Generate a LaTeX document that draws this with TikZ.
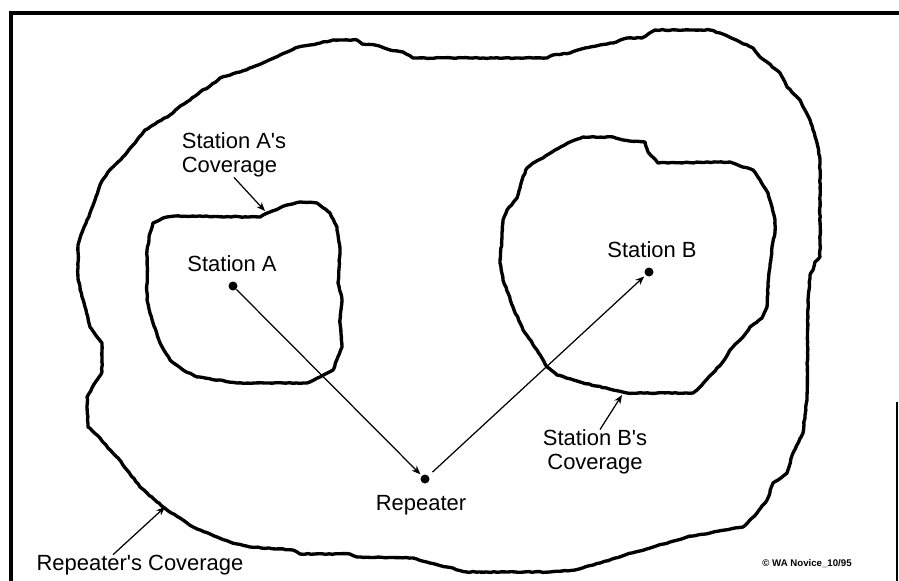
\documentclass[tikz,border=0pt]{standalone}
\usepackage{fontspec}
\setmainfont{Liberation Sans}
\usetikzlibrary{arrows.meta, decorations.pathmorphing}

\begin{document}
\begin{tikzpicture}[x=0.02cm, y=-0.02cm,
    area/.style={line width=1.9pt, line join=round, decorate,
      decoration={random steps, segment length=2pt, amplitude=0.25pt}},
    dot/.style={circle, fill, inner sep=0pt, minimum size=0.18cm},
    lbl/.style={font=\fontsize{12.5}{13.5}\selectfont, inner sep=0pt},
    pointer/.style={-{Stealth[length=5pt, width=4pt]}, line width=0.7pt}]
    \pgfmathsetseed{7}
    \useasboundingbox (0,0) rectangle (899,581);

    % Frame
    \draw[line width=2.8pt] (11,581) -- (11,13) -- (899,13);
    \draw[line width=0.6pt] (897,402) -- (897,581);

    % Repeater's coverage
    \draw[area] (95,200) -- (100,185) -- (108,172) -- (118,162) -- (125,155)
      -- (135,143) -- (145,130) -- (155,124) -- (170,115) -- (178,108)
      -- (190,100) -- (200,92) -- (210,86) -- (220,78) -- (240,72)
      -- (265,62) -- (280,55) -- (295,48) -- (310,45) -- (333,40)
      -- (357,40) -- (362,44) -- (375,45) -- (390,50) -- (403,52)
      -- (413,58) -- (547,58) -- (553,55) -- (570,53) -- (585,48)
      -- (600,45) -- (613,43) -- (627,38) -- (642,38) -- (655,30)
      -- (710,30) -- (720,33) -- (740,42) -- (753,48) -- (760,57)
      -- (767,62) -- (780,73) -- (787,87) -- (800,100) -- (810,120)
      -- (817,143) -- (820,160) -- (820,257) -- (815,262) -- (813,270)
      -- (810,275) -- (808,300) -- (807,400) -- (805,415) -- (803,433)
      -- (793,453) -- (787,473) -- (778,480) -- (773,483) -- (767,500)
      -- (757,513) -- (743,527) -- (725,530) -- (710,533) -- (687,537)
      -- (670,542) -- (653,547) -- (625,555) -- (600,563) -- (575,570)
      -- (550,572) -- (467,572) -- (447,567) -- (430,563) -- (413,558)
      -- (357,557) -- (350,554) -- (300,554) -- (293,550) -- (250,547)
      -- (230,542) -- (217,537) -- (193,527) -- (180,518) -- (167,510)
      -- (157,502) -- (140,487) -- (127,470) -- (118,458) -- (108,448)
      -- (100,438) -- (88,427) -- (87,397) -- (97,380) -- (102,372)
      -- (102,343) -- (90,327) -- (86,310) -- (82,297) -- (78,278)
      -- (78,245) -- (83,230) -- (90,213) -- cycle;

    % Station A's coverage
    \draw[area] (163,218) -- (175,216) -- (260,217) -- (270,212) -- (287,205)
      -- (300,202) -- (317,203) -- (330,213) -- (337,227) -- (340,250)
      -- (338,283) -- (342,300) -- (340,323) -- (342,347) -- (333,370)
      -- (320,377) -- (307,383) -- (237,383) -- (197,377) -- (183,370)
      -- (170,360) -- (160,343) -- (153,323) -- (147,300) -- (147,250)
      -- (150,233) -- (153,223) -- cycle;

    % Station B's coverage
    \draw[area] (543,158) -- (555,150) -- (570,142) -- (583,137) -- (613,137)
      -- (623,140) -- (645,142) -- (648,152) -- (658,163) -- (730,162)
      -- (740,166) -- (753,170) -- (760,180) -- (768,193) -- (772,207)
      -- (775,220) -- (775,232) -- (772,247) -- (770,267) -- (768,283)
      -- (767,307) -- (762,318) -- (750,327) -- (743,337) -- (730,350)
      -- (722,363) -- (713,373) -- (702,385) -- (697,390) -- (693,393)
      -- (627,393) -- (613,390) -- (580,382) -- (557,375) -- (547,367)
      -- (537,350) -- (523,330) -- (513,307) -- (503,280) -- (500,263)
      -- (502,237) -- (503,220) -- (507,210) -- (517,198) -- (522,180)
      -- (527,168) -- (535,162) -- cycle;

    % Stations
    \node[dot] (staA) at (233,286) {};
    \node[dot] (staB) at (649,272) {};
    \node[dot] (rep) at (425,479) {};
    \node[lbl] (staAlbl) at (232,264) {Station A};
    \node[lbl] (staBlbl) at (652,250) {Station B};
    \node[lbl] (replbl) at (421,505) {Repeater};

    % Relay path
    \draw[pointer, shorten >=1pt] (staA) -- (rep);
    \draw[pointer, shorten <=3pt, shorten >=1pt] (rep) -- (staB);

    % Coverage labels
    \coordinate (tipA) at (265,211);
    \coordinate (tipB) at (622,395);
    \coordinate (tipRep) at (165,507);
    \node[lbl, align=left] (covA) at (234,155) {Station A\textquotesingle s\\Coverage};
    \node[lbl, align=center] (covB) at (595,452) {Station B\textquotesingle s\\Coverage};
    \node[lbl] (covRep) at (140,565) {Repeater\textquotesingle s Coverage};
    \draw[pointer] (covA.south) -- (tipA);
    \draw[pointer] ([xshift=0.1cm]covB.north) -- (tipB);
    \draw[pointer] ([xshift=-0.54cm]covRep.north) -- (tipRep);

    % Copyright
    \node[font=\fontsize{5.5}{6}\selectfont\bfseries, inner sep=0pt] (copy)
      at (807,564) {\textcopyright\ WA Novice\_10/95};
\end{tikzpicture}
\end{document}
